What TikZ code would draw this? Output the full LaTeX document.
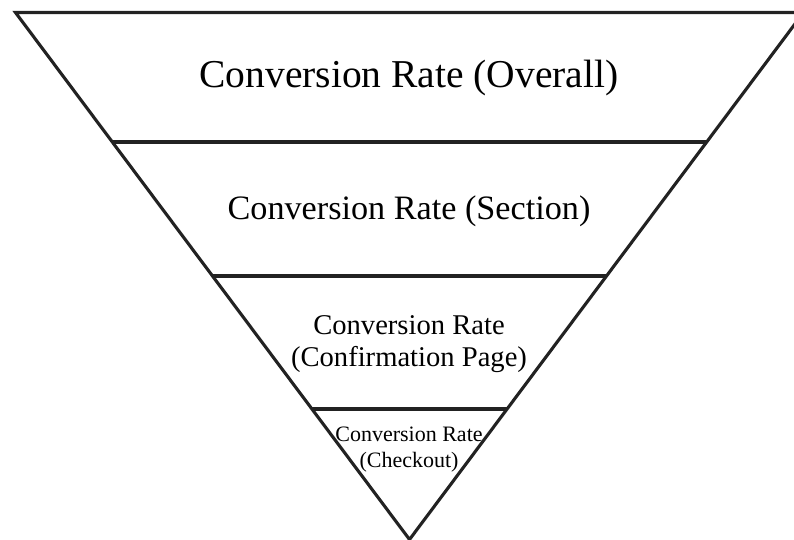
\documentclass[tikz,border=0pt]{standalone}
\usepackage{fontspec}
\setmainfont{Liberation Serif}
\usetikzlibrary{calc}
\definecolor{edge}{HTML}{222222}
\tikzset{
  funnel/.style={draw=edge, line width=3.1pt, line join=miter},
  band/.style={draw=edge, line width=3.1pt},
  label/.style={text=black, align=center, inner sep=0pt},
}
\begin{document}
\begin{tikzpicture}[x=1pt,y=-1pt]
  \clip (0,0) rectangle (794,539);
  \fill[white] (0,0) rectangle (794,539);
  % funnel outline
  \coordinate (TL) at (15.5,12.5);
  \coordinate (TR) at (803.5,12.5);
  \coordinate (AP) at (409.5,539.5);
  \draw[funnel] (TL) -- (TR) -- (AP) -- cycle;
  % stage dividers
  \coordinate (L1) at ($(TL)!0.2457!(AP)$);
  \coordinate (R1) at ($(TR)!0.2457!(AP)$);
  \coordinate (L2) at ($(TL)!0.5!(AP)$);
  \coordinate (R2) at ($(TR)!0.5!(AP)$);
  \coordinate (L3) at ($(TL)!0.7524!(AP)$);
  \coordinate (R3) at ($(TR)!0.7524!(AP)$);
  \draw[band] (L1) -- (R1);
  \draw[band] (L2) -- (R2);
  \draw[band] (L3) -- (R3);
  % stage labels
  \node[label, font=\fontsize{39.5}{45}\selectfont] (s1) at (409,78) {Conversion Rate (Overall)};
  \node[label, font=\fontsize{34.2}{39}\selectfont] (s2) at (409,211) {Conversion Rate (Section)};
  \node[label, font=\fontsize{28.6}{32.5}\selectfont] (s3) at (409,344) {Conversion Rate\\(Confirmation Page)};
  \node[label, font=\fontsize{22}{26}\selectfont] (s4) at (409,450) {Conversion Rate\\(Checkout)};
\end{tikzpicture}
\end{document}
